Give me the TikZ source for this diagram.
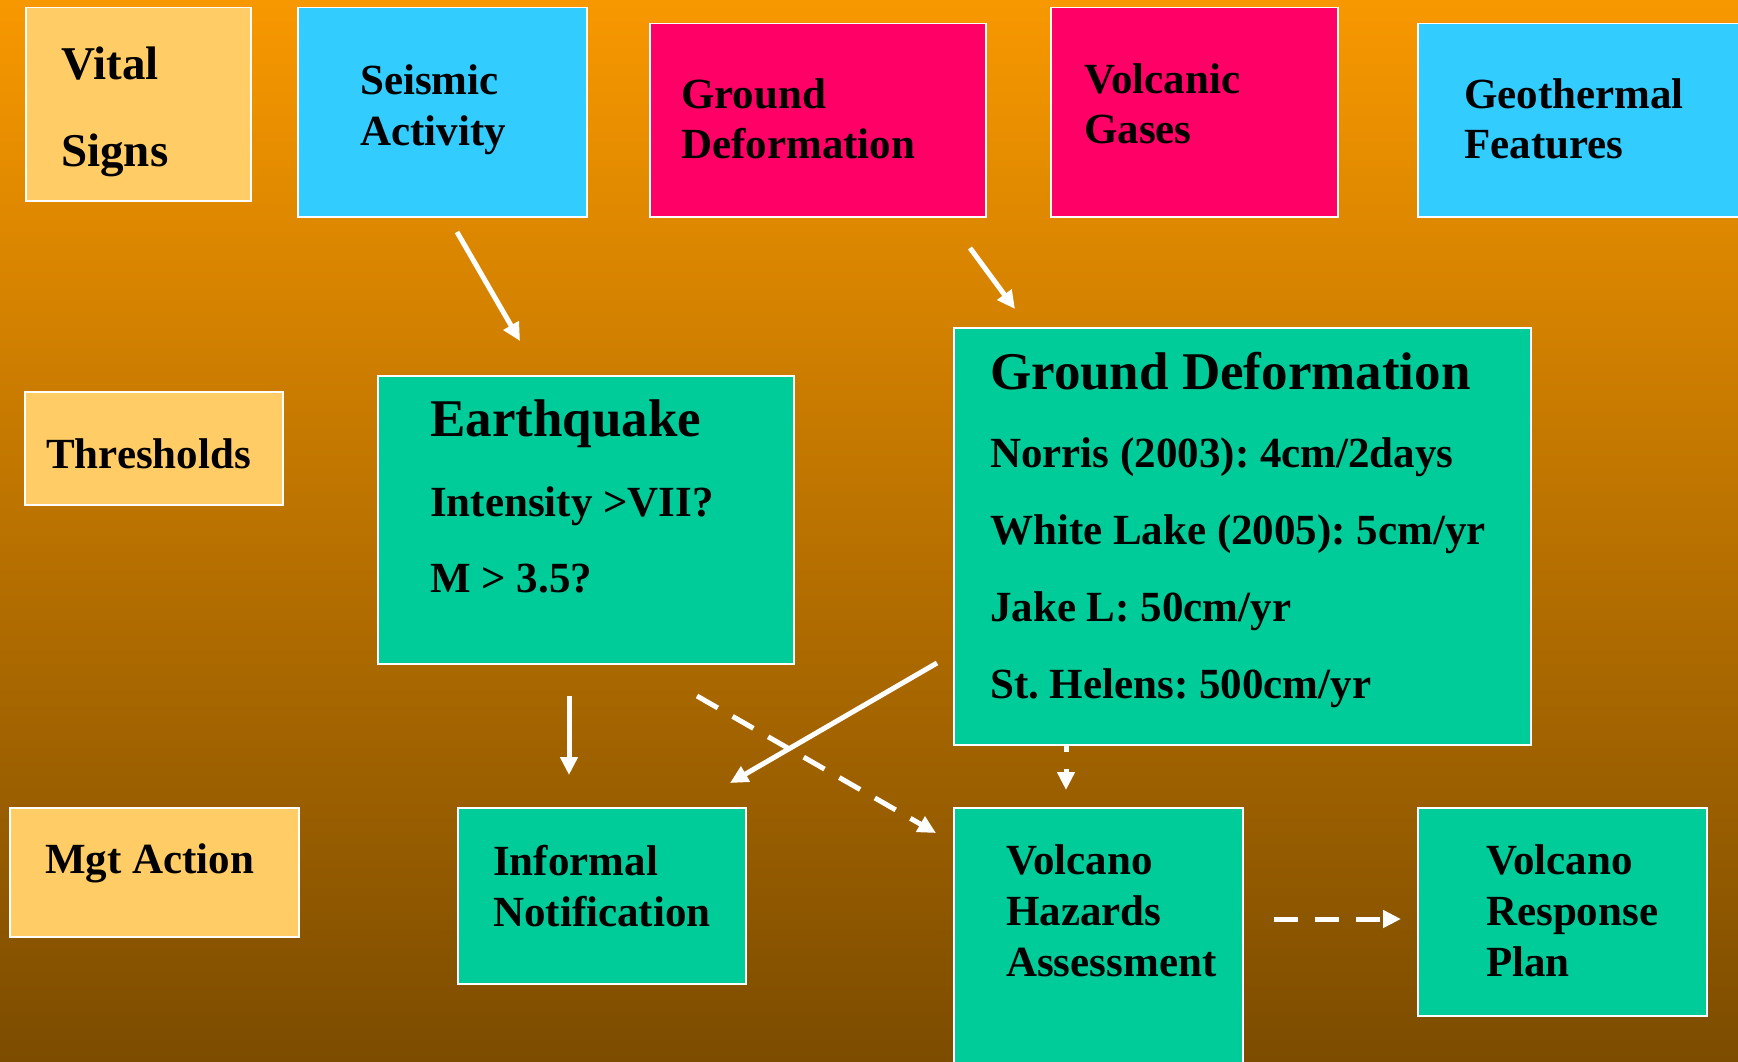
\documentclass[tikz,border=0pt]{standalone}
\usepackage{fontspec}
\setmainfont{Liberation Serif}
\frenchspacing
\usetikzlibrary{arrows.meta}
\definecolor{bgtop}{RGB}{248,152,0}
\definecolor{bgbot}{RGB}{124,76,0}
\definecolor{tanfill}{RGB}{255,204,102}
\definecolor{skyfill}{RGB}{51,204,255}
\definecolor{pinkfill}{RGB}{255,0,102}
\definecolor{greenfill}{RGB}{0,204,153}
\tikzset{
  box/.style={draw=white, line width=1.5pt, inner sep=0pt, anchor=north west},
  txt/.style={anchor=base west, align=left, inner sep=0pt, font=\bfseries\fontsize{43}{51}\selectfont},
  head/.style={anchor=base west, inner sep=0pt, font=\bfseries\fontsize{53}{60}\selectfont},
  arr/.style={white, line width=5pt, -{Triangle[length=18pt,width=17pt]}},
  darr/.style={arr, dash pattern=on 24pt off 17pt}
}
\begin{document}
\begin{tikzpicture}[x=1pt, y=-1pt]
         \useasboundingbox (0,0) rectangle (1738,1062);
         \shade[top color=bgtop, bottom color=bgbot] (0,0) rectangle (1738,1062);
         \node[box, fill=tanfill, minimum width=225pt, minimum height=193pt] (V) at (25,7) {};
         \node[box, fill=skyfill, minimum width=289pt, minimum height=209pt] (S) at (297,7) {};
         \node[box, fill=pinkfill, minimum width=336pt, minimum height=193pt] (G) at (649,23) {};
         \node[box, fill=pinkfill, minimum width=287pt, minimum height=209pt] (Gas) at (1050,7) {};
         \node[box, fill=skyfill, minimum width=325pt, minimum height=193pt] (Geo) at (1417,23) {};
         \node[box, fill=tanfill, minimum width=258pt, minimum height=113pt] (T) at (24,391) {};
         \node[box, fill=greenfill, minimum width=416pt, minimum height=288pt] (EQ) at (377,375) {};
         \node[box, fill=greenfill, minimum width=577pt, minimum height=417pt] (GD) at (953,327) {};
         \node[box, fill=tanfill, minimum width=289pt, minimum height=129pt] (M) at (9,807) {};
         \node[box, fill=greenfill, minimum width=288pt, minimum height=176pt] (IN) at (457,807) {};
         \node[box, fill=greenfill, minimum width=289pt, minimum height=270pt] (VH) at (953,807) {};
         \node[box, fill=greenfill, minimum width=289pt, minimum height=208pt] (VR) at (1417,807) {};

         \node[txt, font=\bfseries\fontsize{47}{87}\selectfont] (Vt) at (61,167) {Vital\\Signs};
         \node[txt] (St) at (360,146) {Seismic\\Activity};
         \node[txt] (Gt) at (681,159) {Ground\\Deformation};
         \node[txt] (Gast) at (1084,144) {Volcanic\\Gases};
         \node[txt] (Geot) at (1464,159) {Geothermal\\Features};
         \node[txt] (Tt) at (46,468) {Thresholds};
         \node[head] (EQh) at (430,436) {Earthquake};
         \node[txt, font=\bfseries\fontsize{43}{76}\selectfont] (EQt) at (430,592) {Intensity {>}VII?\\M {>} 3.5?};
         \node[head] (GDh) at (990,389) {Ground Deformation};
         \node[txt, font=\bfseries\fontsize{43}{77}\selectfont] (GDt) at (990,698)
         {Norris (2003): 4cm/2days\\White Lake (2005): 5cm/yr\\Jake L: 50cm/yr\\St. Helens: 500cm/yr};
         \node[txt] (Mt) at (45,873) {Mgt Action};
         \node[txt] (INt) at (493,926) {Informal\\Notification};
         \node[txt] (VHt) at (1006,976) {Volcano\\Hazards\\Assessment};
         \node[txt] (VRt) at (1486,976) {Volcano\\Response\\Plan};

         \coordinate (s1) at (457,232);  \coordinate (e1) at (520,341);
         \coordinate (s2) at (970,248);  \coordinate (e2) at (1015,309);
         \coordinate (s3) at (569,696);  \coordinate (e3) at (569,775);
         \coordinate (s4) at (697,696);  \coordinate (e4) at (936,833);
         \coordinate (s5) at (937,663);  \coordinate (e5) at (730,783);
         \coordinate (s6) at (1066,744); \coordinate (e6) at (1066,790);
         \coordinate (s7) at (1274,919); \coordinate (e7) at (1401,919);
         \draw[arr] (s1) -- (e1);
         \draw[arr] (s2) -- (e2);
         \draw[arr] (s3) -- (e3);
         \draw[darr] (s4) -- (e4);
         \draw[arr] (s5) -- (e5);
         \draw[darr, dash pattern=on 8pt off 17pt] (s6) -- (e6);
         \draw[darr] (s7) -- (e7);
      \end{tikzpicture}
\end{document}
